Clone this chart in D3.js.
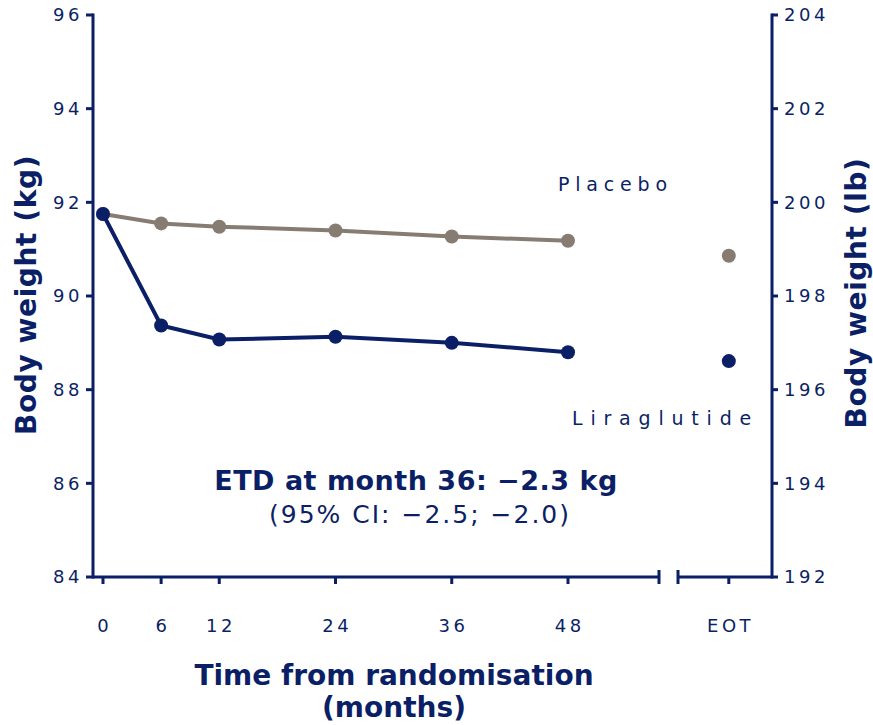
<!DOCTYPE html>
<html>
<head>
<meta charset="utf-8">
<script src="https://cdn.jsdelivr.net/npm/d3@7"></script>
<style>
  body { margin: 0; background: #fff; }
  text { font-family: "DejaVu Sans", Verdana, sans-serif; }
</style>
</head>
<body>
<div id="chart"></div>
<script>
// data
var months = [0, 6, 12, 24, 36, 48];
var placebo = [91.75, 91.55, 91.48, 91.40, 91.27, 91.18];
var liraglutide = [91.75, 89.37, 89.07, 89.13, 89.00, 88.80];
var eotPlacebo = 90.86;
var eotLiraglutide = 88.61;
var kgTicks = [84, 86, 88, 90, 92, 94, 96];
var lbTicks = [192, 194, 196, 198, 200, 202, 204];
var xTickLabels = ["0", "6", "12", "24", "36", "48"];

function init() {
    var w = 873, h = 725;
    var navy = "#0b1f66";
    var grey = "#877c72";

    var svg = d3.select("#chart").append("svg")
        .attr("width", w).attr("height", h);

    var x = d3.scaleLinear().domain([0, 48]).range([103, 568]);
    var eotX = x(64.6);
    var left = 93, right = 772;
    var y = d3.scaleLinear().domain([84, 96]).range([577, 15]);
    var yLb = d3.scaleLinear().domain([192, 204]).range([577, 15]);

    // left axis
    svg.append("line").attr("x1", left).attr("x2", left)
        .attr("y1", y(96) - 1.5).attr("y2", y(84) + 1.5)
        .attr("stroke", navy).attr("stroke-width", 3);
    svg.selectAll(".lt").data(kgTicks).enter().append("line")
        .attr("x1", left - 7).attr("x2", left)
        .attr("y1", function(d) { return y(d); })
        .attr("y2", function(d) { return y(d); })
        .attr("stroke", navy).attr("stroke-width", 3);
    svg.selectAll(".ll").data(kgTicks).enter().append("text")
        .attr("x", 83).attr("y", function(d) { return y(d); })
        .attr("dy", "0.36em").attr("text-anchor", "end")
        .attr("font-size", 18).attr("letter-spacing", 3.5).attr("fill", navy)
        .text(function(d) { return d; });

    // right axis
    svg.append("line").attr("x1", right).attr("x2", right)
        .attr("y1", yLb(204) - 1.5).attr("y2", yLb(192) + 1.5)
        .attr("stroke", navy).attr("stroke-width", 3);
    svg.selectAll(".rt").data(lbTicks).enter().append("line")
        .attr("x1", right).attr("x2", right + 6)
        .attr("y1", function(d) { return yLb(d); })
        .attr("y2", function(d) { return yLb(d); })
        .attr("stroke", navy).attr("stroke-width", 3);
    svg.selectAll(".rl").data(lbTicks).enter().append("text")
        .attr("x", 784).attr("y", function(d) { return yLb(d); })
        .attr("dy", "0.36em").attr("text-anchor", "start")
        .attr("font-size", 18).attr("letter-spacing", 3.5).attr("fill", navy)
        .text(function(d) { return d; });

    // x axis with break
    var y0 = y(84);
    var brk1 = 659, brk2 = 678;
    svg.append("line").attr("x1", left).attr("x2", brk1)
        .attr("y1", y0).attr("y2", y0)
        .attr("stroke", navy).attr("stroke-width", 3);
    svg.append("line").attr("x1", brk2).attr("x2", right)
        .attr("y1", y0).attr("y2", y0)
        .attr("stroke", navy).attr("stroke-width", 3);
    [brk1, brk2].forEach(function(bx) {
        svg.append("line").attr("x1", bx).attr("x2", bx)
            .attr("y1", y0 - 7).attr("y2", y0 + 7)
            .attr("stroke", navy).attr("stroke-width", 3);
    });
    var xt = months.map(function(m) { return x(m); }).concat([eotX]);
    svg.selectAll(".xt").data(xt).enter().append("line")
        .attr("x1", function(d) { return d; }).attr("x2", function(d) { return d; })
        .attr("y1", y0).attr("y2", y0 + 7)
        .attr("stroke", navy).attr("stroke-width", 3);
    svg.selectAll(".xl").data(xTickLabels.concat(["EOT"])).enter().append("text")
        .attr("x", function(d, i) { return xt[i] + 1.75; })
        .attr("y", 632)
        .attr("text-anchor", "middle")
        .attr("font-size", 18).attr("letter-spacing", 3.5).attr("fill", navy)
        .text(function(d) { return d; });

    // lines
    var line = d3.line()
        .x(function(d, i) { return x(months[i]); })
        .y(function(d) { return y(d); });

    function series(vals, eot, col) {
        svg.append("path").datum(vals)
            .attr("d", line).attr("fill", "none")
            .attr("stroke", col).attr("stroke-width", 4);
        svg.selectAll(null).data(vals).enter().append("circle")
            .attr("cx", function(d, i) { return x(months[i]); })
            .attr("cy", function(d) { return y(d); })
            .attr("r", 7).attr("fill", col);
        svg.append("circle").attr("cx", eotX).attr("cy", y(eot))
            .attr("r", 7).attr("fill", col);
    }
    series(placebo, eotPlacebo, grey);
    series(liraglutide, eotLiraglutide, navy);

    // series labels
    svg.append("text").attr("x", 558).attr("y", 191)
        .attr("font-size", 19).attr("letter-spacing", 5.8).attr("fill", navy)
        .text("Placebo");
    svg.append("text").attr("x", 572).attr("y", 425)
        .attr("font-size", 19).attr("letter-spacing", 7.8).attr("fill", navy)
        .text("Liraglutide");

    // ETD annotation
    svg.append("text").attr("x", 416).attr("y", 490)
        .attr("text-anchor", "middle").attr("font-size", 27)
        .attr("font-weight", "bold").attr("letter-spacing", 0.5).attr("fill", navy)
        .text("ETD at month 36: \u22122.3 kg");
    svg.append("text").attr("x", 420).attr("y", 523)
        .attr("text-anchor", "middle").attr("font-size", 25)
        .attr("letter-spacing", 2).attr("fill", navy)
        .text("(95% CI: \u22122.5; \u22122.0)");

    // axis titles
    svg.append("text").attr("x", 394).attr("y", 685)
        .attr("text-anchor", "middle").attr("font-size", 28)
        .attr("font-weight", "bold").attr("fill", navy)
        .text("Time from randomisation");
    svg.append("text").attr("x", 394).attr("y", 717)
        .attr("text-anchor", "middle").attr("font-size", 28)
        .attr("font-weight", "bold").attr("fill", navy)
        .text("(months)");
    svg.append("text")
        .attr("transform", "translate(36,295) rotate(-90)")
        .attr("text-anchor", "middle").attr("font-size", 28)
        .attr("font-weight", "bold").attr("letter-spacing", 0.6).attr("fill", navy)
        .text("Body weight (kg)");
    svg.append("text")
        .attr("transform", "translate(866,293) rotate(-90)")
        .attr("text-anchor", "middle").attr("font-size", 28)
        .attr("font-weight", "bold").attr("letter-spacing", 0.6).attr("fill", navy)
        .text("Body weight (lb)");
}
window.onload = init;
</script>
</body>
</html>
